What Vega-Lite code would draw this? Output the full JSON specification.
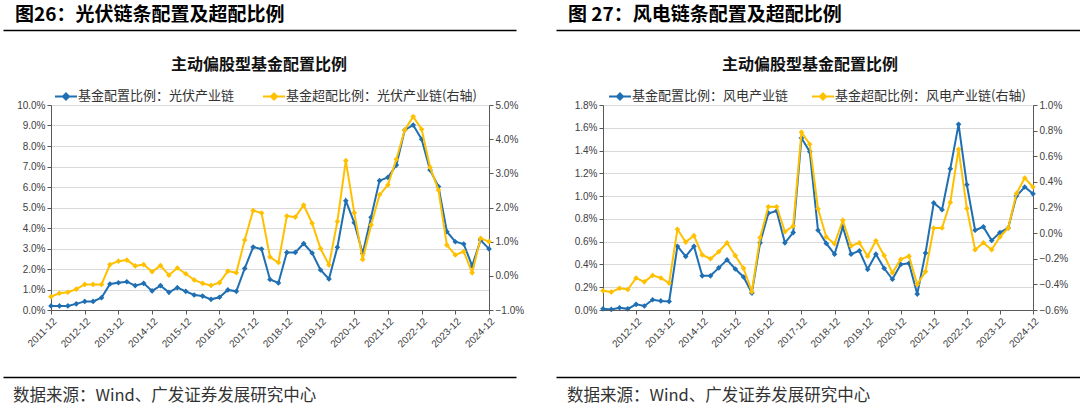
{
"$schema": "https://vega.github.io/schema/vega-lite/v6.json",
"background": "white",
"padding": {"left": 13, "top": 6, "right": 0, "bottom": 0},
"config": {"view": {"stroke": null, "fill": "white"}, "font": "Liberation Sans", "axis": {"labelFont": "Liberation Sans"}},
"resolve": {"scale": {"color": "independent"}, "legend": {"color": "independent"}},
"datasets": {
"line": [{"k": 1}],
"pv": [
{"q":"2011-12","a":0.2,"b":-0.61},{"q":"2012-03","a":0.2,"b":-0.51},{"q":"2012-06","a":0.2,"b":-0.48},{"q":"2012-09","a":0.3,"b":-0.39},{"q":"2012-12","a":0.42,"b":-0.25},
{"q":"2013-03","a":0.42,"b":-0.25},{"q":"2013-06","a":0.6,"b":-0.25},{"q":"2013-09","a":1.27,"b":0.33},{"q":"2013-12","a":1.33,"b":0.43},
{"q":"2014-03","a":1.38,"b":0.46},{"q":"2014-06","a":1.19,"b":0.29},{"q":"2014-09","a":1.3,"b":0.33},{"q":"2014-12","a":0.93,"b":0.12},
{"q":"2015-03","a":1.19,"b":0.3},{"q":"2015-06","a":0.86,"b":0.02},{"q":"2015-09","a":1.09,"b":0.23},{"q":"2015-12","a":0.91,"b":0.06},
{"q":"2016-03","a":0.73,"b":-0.12},{"q":"2016-06","a":0.68,"b":-0.22},{"q":"2016-09","a":0.52,"b":-0.28},{"q":"2016-12","a":0.62,"b":-0.2},
{"q":"2017-03","a":0.98,"b":0.14},{"q":"2017-06","a":0.91,"b":0.09},{"q":"2017-09","a":2.03,"b":1.05},{"q":"2017-12","a":3.07,"b":1.91},
{"q":"2018-03","a":2.97,"b":1.84},{"q":"2018-06","a":1.49,"b":0.55},{"q":"2018-09","a":1.32,"b":0.39},{"q":"2018-12","a":2.81,"b":1.75},
{"q":"2019-03","a":2.81,"b":1.72},{"q":"2019-06","a":3.24,"b":2.07},{"q":"2019-09","a":2.78,"b":1.54},{"q":"2019-12","a":1.95,"b":0.8},
{"q":"2020-03","a":1.51,"b":0.32},{"q":"2020-06","a":3.06,"b":1.59},{"q":"2020-09","a":5.33,"b":3.37},{"q":"2020-12","a":4.26,"b":1.85},
{"q":"2021-03","a":2.76,"b":0.48},{"q":"2021-06","a":4.52,"b":1.49},{"q":"2021-09","a":6.31,"b":2.37},{"q":"2021-12","a":6.47,"b":2.66},
{"q":"2022-03","a":7.07,"b":3.41},{"q":"2022-06","a":8.78,"b":4.27},{"q":"2022-09","a":9.02,"b":4.66},{"q":"2022-12","a":8.33,"b":4.29},
{"q":"2023-03","a":6.83,"b":3.18},{"q":"2023-06","a":6.02,"b":2.51},{"q":"2023-09","a":3.82,"b":0.9},{"q":"2023-12","a":3.33,"b":0.61},
{"q":"2024-03","a":3.22,"b":0.71},{"q":"2024-06","a":2.15,"b":0.09},{"q":"2024-09","a":3.41,"b":1.1},{"q":"2024-12","a":2.98,"b":1.0}
],
"wind": [
{"q":"2011-12","a":0.01,"b":-0.45},{"q":"2012-03","a":0.005,"b":-0.46},{"q":"2012-06","a":0.02,"b":-0.43},{"q":"2012-09","a":0.01,"b":-0.44},{"q":"2012-12","a":0.05,"b":-0.35},
{"q":"2013-03","a":0.035,"b":-0.38},{"q":"2013-06","a":0.09,"b":-0.33},{"q":"2013-09","a":0.08,"b":-0.35},{"q":"2013-12","a":0.075,"b":-0.39},
{"q":"2014-03","a":0.56,"b":0.03},{"q":"2014-06","a":0.47,"b":-0.07},{"q":"2014-09","a":0.56,"b":-0.02},{"q":"2014-12","a":0.3,"b":-0.17},
{"q":"2015-03","a":0.3,"b":-0.2},{"q":"2015-06","a":0.37,"b":-0.145},{"q":"2015-09","a":0.44,"b":-0.075},{"q":"2015-12","a":0.36,"b":-0.176},
{"q":"2016-03","a":0.29,"b":-0.275},{"q":"2016-06","a":0.15,"b":-0.457},{"q":"2016-09","a":0.59,"b":-0.035},{"q":"2016-12","a":0.85,"b":0.206},
{"q":"2017-03","a":0.87,"b":0.206},{"q":"2017-06","a":0.59,"b":0.011},{"q":"2017-09","a":0.68,"b":0.056},{"q":"2017-12","a":1.51,"b":0.787},
{"q":"2018-03","a":1.39,"b":0.694},{"q":"2018-06","a":0.7,"b":0.19},{"q":"2018-09","a":0.585,"b":-0.03},{"q":"2018-12","a":0.49,"b":-0.083},
{"q":"2019-03","a":0.73,"b":0.1},{"q":"2019-06","a":0.49,"b":-0.1},{"q":"2019-09","a":0.52,"b":-0.075},{"q":"2019-12","a":0.357,"b":-0.18},
{"q":"2020-03","a":0.49,"b":-0.06},{"q":"2020-06","a":0.366,"b":-0.175},{"q":"2020-09","a":0.27,"b":-0.31},{"q":"2020-12","a":0.4,"b":-0.205},
{"q":"2021-03","a":0.41,"b":-0.18},{"q":"2021-06","a":0.14,"b":-0.4},{"q":"2021-09","a":0.5,"b":-0.3},{"q":"2021-12","a":0.94,"b":0.04},
{"q":"2022-03","a":0.88,"b":0.04},{"q":"2022-06","a":1.24,"b":0.24},{"q":"2022-09","a":1.63,"b":0.654},{"q":"2022-12","a":1.1,"b":0.193},
{"q":"2023-03","a":0.7,"b":-0.13},{"q":"2023-06","a":0.73,"b":-0.075},{"q":"2023-09","a":0.61,"b":-0.13},{"q":"2023-12","a":0.68,"b":-0.03},
{"q":"2024-03","a":0.72,"b":0.04},{"q":"2024-06","a":1.0,"b":0.31},{"q":"2024-09","a":1.08,"b":0.43},{"q":"2024-12","a":1.02,"b":0.36}
]
},
"columns": 2,
"spacing": {"row": 67, "column": 114},
"bounds": "flush",
"align": "each",
"concat": [
{
 "width": 438, "height": 8,
 "data": {"name": "line"},
 "title": {"text": "图26：光伏链条配置及超配比例", "anchor": "start", "frame": "group", "dx": -36, "offset": 5, "font": "Noto Sans CJK SC", "fontSize": 19, "fontWeight": "bold", "color": "#000000"},
 "mark": {"type": "point", "opacity": 0},
 "encoding": {
  "x": {"datum": 0.5, "type": "quantitative", "scale": {"domain": [0, 1], "range": [-48, 465]},
   "axis": {"orient": "top", "domainColor": "#000000", "domainWidth": 1.5, "ticks": false, "labels": false, "grid": false, "title": null}}
 }
},
{
 "width": 430, "height": 8,
 "data": {"name": "line"},
 "title": {"text": "图 27：风电链条配置及超配比例", "anchor": "start", "frame": "group", "dx": -35, "offset": 5, "font": "Noto Sans CJK SC", "fontSize": 19, "fontWeight": "bold", "color": "#000000"},
 "mark": {"type": "point", "opacity": 0},
 "encoding": {
  "x": {"datum": 0.5, "type": "quantitative", "scale": {"domain": [0, 1], "range": [-47, 477]},
   "axis": {"orient": "top", "domainColor": "#000000", "domainWidth": 1.5, "ticks": false, "labels": false, "grid": false, "title": null}}
 }
},
{
 "width": 438, "height": 205,
 "data": {"name": "pv"},
 "title": {"text": "主动偏股型基金配置比例", "anchor": "middle", "frame": "group", "dx": -11, "offset": 11, "font": "Noto Sans CJK SC", "fontSize": 16, "fontWeight": "bold", "color": "#111111"},
 "encoding": {
  "x": {"field": "q", "type": "ordinal", "scale": {"type": "point", "padding": 0},
   "axis": {"values": ["2011-12","2012-12","2013-12","2014-12","2015-12","2016-12","2017-12","2018-12","2019-12","2020-12","2021-12","2022-12","2023-12","2024-12"], "labelAngle": -45, "labelAlign": "right", "labelBaseline": "top", "labelOverlap": false, "labelBound": false, "labelFlush": false, "zindex": 2, "title": null, "labelFontSize": 10, "labelColor": "#404040", "tickSize": 4, "tickColor": "#595959", "domainColor": "#595959", "grid": false, "labelPadding": 2}}
 },
 "layer": [
  {
   "encoding": {
    "y": {"field": "a", "type": "quantitative", "scale": {"domain": [0, 10], "nice": false, "zero": false},
     "axis": {"values": [0,1,2,3,4,5,6,7,8,9,10], "labelExpr": "format(datum.value,'.1f')+'%'", "title": null, "grid": true, "gridColor": "#d9d9d9", "domainColor": "#595959", "tickColor": "#595959", "tickSize": 4, "labelFontSize": 10, "labelColor": "#404040", "labelPadding": 2}},
    "color": {"datum": "基金配置比例：光伏产业链", "type": "nominal",
     "scale": {"domain": ["基金配置比例：光伏产业链", "基金超配比例：光伏产业链(右轴)"], "range": ["#1f6fb2", "#ffc000"]},
     "legend": {"orient": "none", "legendX": 3, "legendY": -21, "direction": "horizontal", "title": null, "labelFont": "Noto Sans CJK SC", "labelFontSize": 13, "labelColor": "#333333", "labelOffset": 0, "columnPadding": 24, "labelLimit": 400,
      "symbolType": "M-1,0L1,0M0,-0.28L0.28,0L0,0.28L-0.28,0Z", "symbolSize": 484, "symbolStrokeWidth": 2,
      "encode": {"symbols": {"update": {
        "shape": {"value": "M-1,0L1,0M0,-0.28L0.28,0L0,0.28L-0.28,0Z"},
        "fill": [{"test": "datum.value === '基金配置比例：光伏产业链'", "value": "#1f6fb2"}, {"value": "#ffc000"}],
        "stroke": [{"test": "datum.value === '基金配置比例：光伏产业链'", "value": "#1f6fb2"}, {"value": "#ffc000"}],
        "strokeWidth": {"value": 2}, "opacity": {"value": 1}}}}}}
   },
   "layer": [
    {"mark": {"type": "line", "strokeWidth": 2}},
    {"mark": {"type": "point", "shape": "diamond", "filled": true, "size": 32, "opacity": 1}}
   ]
  },
  {
   "encoding": {
    "y": {"field": "b", "type": "quantitative", "scale": {"domain": [-1, 5], "nice": false, "zero": false},
     "axis": {"orient": "right", "values": [-1,0,1,2,3,4,5], "labelExpr": "format(datum.value,'.1f')+'%'", "title": null, "grid": false, "domainColor": "#595959", "tickColor": "#595959", "tickSize": 4, "labelFontSize": 10, "labelColor": "#404040", "labelPadding": 2}},
    "color": {"datum": "基金超配比例：光伏产业链(右轴)", "type": "nominal"}
   },
   "layer": [
    {"mark": {"type": "line", "strokeWidth": 2}},
    {"mark": {"type": "point", "shape": "diamond", "filled": true, "size": 32, "opacity": 1}}
   ]
  }
 ],
 "resolve": {"scale": {"y": "independent"}}
},
{
 "width": 430, "height": 205,
 "data": {"name": "wind"},
 "title": {"text": "主动偏股型基金配置比例", "anchor": "middle", "frame": "group", "dx": -8, "offset": 11, "font": "Noto Sans CJK SC", "fontSize": 16, "fontWeight": "bold", "color": "#111111"},
 "encoding": {
  "x": {"field": "q", "type": "ordinal", "scale": {"type": "point", "padding": 0},
   "axis": {"values": ["2011-12","2012-12","2013-12","2014-12","2015-12","2016-12","2017-12","2018-12","2019-12","2020-12","2021-12","2022-12","2023-12","2024-12"], "labelAngle": -45, "labelAlign": "right", "labelBaseline": "top", "labelOverlap": false, "labelBound": false, "labelFlush": false, "zindex": 2, "title": null, "labelFontSize": 10, "labelColor": "#404040", "tickSize": 4, "tickColor": "#595959", "domainColor": "#595959", "grid": false, "labelPadding": 2}}
 },
 "layer": [
  {
   "encoding": {
    "y": {"field": "a", "type": "quantitative", "scale": {"domain": [0, 1.8], "nice": false, "zero": false},
     "axis": {"values": [0,0.2,0.4,0.6,0.8,1.0,1.2,1.4,1.6,1.8], "labelExpr": "format(datum.value,'.1f')+'%'", "title": null, "grid": true, "gridColor": "#d9d9d9", "domainColor": "#595959", "tickColor": "#595959", "tickSize": 4, "labelFontSize": 10, "labelColor": "#404040", "labelPadding": 2}},
    "color": {"datum": "基金配置比例：风电产业链", "type": "nominal",
     "scale": {"domain": ["基金配置比例：风电产业链", "基金超配比例：风电产业链(右轴)"], "range": ["#1f6fb2", "#ffc000"]},
     "legend": {"orient": "none", "legendX": 5, "legendY": -21, "direction": "horizontal", "title": null, "labelFont": "Noto Sans CJK SC", "labelFontSize": 13, "labelColor": "#333333", "labelOffset": 0, "columnPadding": 19, "labelLimit": 400,
      "symbolType": "M-1,0L1,0M0,-0.28L0.28,0L0,0.28L-0.28,0Z", "symbolSize": 484, "symbolStrokeWidth": 2,
      "encode": {"symbols": {"update": {
        "shape": {"value": "M-1,0L1,0M0,-0.28L0.28,0L0,0.28L-0.28,0Z"},
        "fill": [{"test": "datum.value === '基金配置比例：风电产业链'", "value": "#1f6fb2"}, {"value": "#ffc000"}],
        "stroke": [{"test": "datum.value === '基金配置比例：风电产业链'", "value": "#1f6fb2"}, {"value": "#ffc000"}],
        "strokeWidth": {"value": 2}, "opacity": {"value": 1}}}}}}
   },
   "layer": [
    {"mark": {"type": "line", "strokeWidth": 2}},
    {"mark": {"type": "point", "shape": "diamond", "filled": true, "size": 32, "opacity": 1}}
   ]
  },
  {
   "encoding": {
    "y": {"field": "b", "type": "quantitative", "scale": {"domain": [-0.6, 1.0], "nice": false, "zero": false},
     "axis": {"orient": "right", "values": [-0.6,-0.4,-0.2,0,0.2,0.4,0.6,0.8,1.0], "labelExpr": "format(datum.value,'.1f')+'%'", "title": null, "grid": false, "domainColor": "#595959", "tickColor": "#595959", "tickSize": 4, "labelFontSize": 10, "labelColor": "#404040", "labelPadding": 2}},
    "color": {"datum": "基金超配比例：风电产业链(右轴)", "type": "nominal"}
   },
   "layer": [
    {"mark": {"type": "line", "strokeWidth": 2}},
    {"mark": {"type": "point", "shape": "diamond", "filled": true, "size": 32, "opacity": 1}}
   ]
  }
 ],
 "resolve": {"scale": {"y": "independent"}}
},
{
 "width": 438, "height": 8,
 "data": {"name": "line"},
 "title": {"text": "数据来源：Wind、广发证券发展研究中心", "orient": "bottom", "anchor": "start", "frame": "group", "dx": -38, "offset": 3, "font": "Noto Sans CJK SC", "fontSize": 16.5, "fontWeight": "normal", "color": "#333333"},
 "mark": {"type": "point", "opacity": 0},
 "encoding": {
  "x": {"datum": 0.5, "type": "quantitative", "scale": {"domain": [0, 1], "range": [-48, 465]},
   "axis": {"orient": "top", "domainColor": "#000000", "domainWidth": 1.5, "ticks": false, "labels": false, "grid": false, "title": null}}
 }
},
{
 "width": 430, "height": 8,
 "data": {"name": "line"},
 "title": {"text": "数据来源：Wind、广发证券发展研究中心", "orient": "bottom", "anchor": "start", "frame": "group", "dx": -36, "offset": 3, "font": "Noto Sans CJK SC", "fontSize": 16.5, "fontWeight": "normal", "color": "#333333"},
 "mark": {"type": "point", "opacity": 0},
 "encoding": {
  "x": {"datum": 0.5, "type": "quantitative", "scale": {"domain": [0, 1], "range": [-47, 477]},
   "axis": {"orient": "top", "domainColor": "#000000", "domainWidth": 1.5, "ticks": false, "labels": false, "grid": false, "title": null}}
 }
}
]
}
